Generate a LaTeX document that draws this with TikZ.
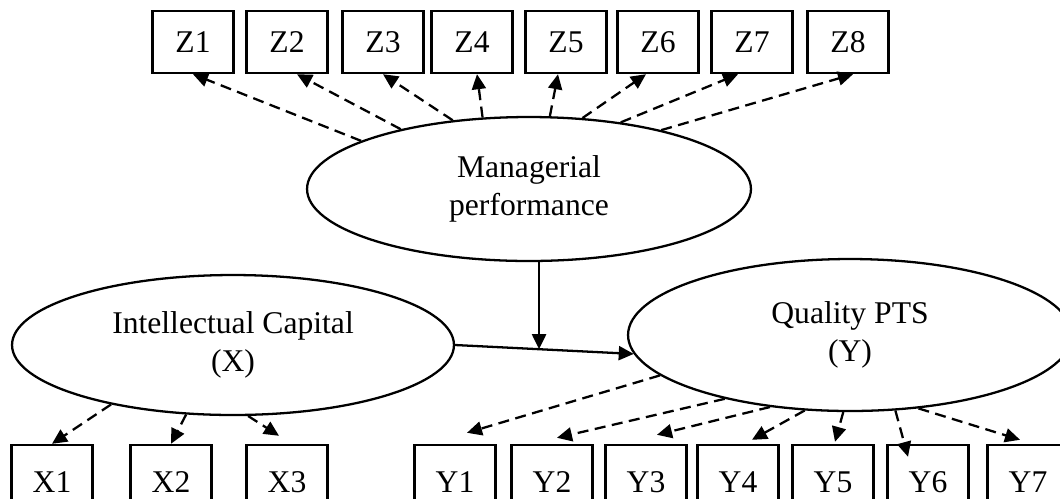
\documentclass[tikz,border=0pt]{standalone}
\usepackage{fontspec}
\setmainfont{Liberation Serif}
\usetikzlibrary{shapes, arrows.meta, positioning}

\begin{document}
\begin{tikzpicture}[
    x=0.02cm, y=-0.02cm,
    font=\fontsize{18}{22}\selectfont,
    box/.style={
        rectangle, draw, line width=1.4pt,
        minimum width=1.62cm,
        minimum height=1.24cm,
        inner sep=0pt
    },
    lowbox/.style={box, minimum height=1.48cm},
    latent/.style={
        ellipse, draw, line width=1.3pt,
        minimum width=8.88cm,
        minimum height=2.88cm,
        align=center, inner sep=0pt
    },
    arrow/.style={-{Triangle[length=0.3cm,width=0.28cm]}, line width=1.3pt},
    dasharrow/.style={arrow, dash pattern=on 0.22cm off 0.13cm}
]
\useasboundingbox (0,0) rectangle (1060,498);
\clip (0,0) rectangle (1060,498);

% Latent variables
\node[latent] (mp) at (529,189) {Managerial\\performance};
\node[latent, minimum width=8.84cm, minimum height=2.8cm] (ic) at (233,345) {Intellectual Capital\\(X)};
\node[latent, minimum height=3.04cm] (qp) at (850,335) {Quality PTS\\(Y)};

% Indicators
\node[box] (z1) at (193,42) {Z1};
\node[box] (z2) at (287,42) {Z2};
\node[box] (z3) at (383,42) {Z3};
\node[box] (z4) at (472,42) {Z4};
\node[box] (z5) at (566,42) {Z5};
\node[box] (z6) at (658,42) {Z6};
\node[box] (z7) at (752,42) {Z7};
\node[box] (z8) at (848,42) {Z8};

\node[lowbox] (x1) at (52,482) {X1};
\node[lowbox] (x2) at (171,482) {X2};
\node[lowbox] (x3) at (287,482) {X3};

\node[lowbox] (y1) at (455,482) {Y1};
\node[lowbox] (y2) at (552,482) {Y2};
\node[lowbox] (y3) at (646,482) {Y3};
\node[lowbox] (y4) at (738,482) {Y4};
\node[lowbox] (y5) at (833,482) {Y5};
\node[lowbox] (y6) at (928,482) {Y6};
\node[lowbox] (y7) at (1028,482) {Y7};

% Arrows
\draw[dasharrow] (mp.164) -- (z1.south);
\draw[dasharrow] (mp.155) -- ([shift={(10,0)}]z2.south);
\draw[dasharrow] (mp.138) -- (z3.south);
\draw[dasharrow] (mp.123) -- ([shift={(5,0)}]z4.south);
\draw[dasharrow] (mp.74) -- ([shift={(-8,0)}]z5.south);
\draw[dasharrow] (mp.53) -- ([shift={(-12,0)}]z6.south);
\draw[dasharrow] (mp.36) -- ([shift={(-14,0)}]z7.south);
\draw[dasharrow] (mp.24) -- ([shift={(5,0)}]z8.south);

\draw[dasharrow] (ic.206) -- (x1.north);
\draw[dasharrow] (ic.236) -- (x2.north);
\draw[dasharrow] (ic.282) -- ([shift={(-8,-8)}]x3.north);

\draw[dasharrow] (qp.192) -- ([shift={(12,-11)}]y1.north);
\draw[dasharrow] (qp.207) -- ([shift={(5,-6)}]y2.north);
\draw[dasharrow] (qp.222) -- ([shift={(11,-9)}]y3.north);
\draw[dasharrow] (qp.239) -- ([shift={(14,-4)}]y4.north);
\draw[dasharrow] (qp.265) -- ([shift={(2,-2)}]y5.north);
\draw[dasharrow] (qp.301) -- ([shift={(-20,13)}]y6.north);
\draw[dasharrow] (qp.313) -- ([shift={(-8,-4)}]y7.north);

\draw[arrow] (ic.east) -- coordinate[pos=0.47] (mid) (qp.185);
\draw[arrow] (mid |- mp.south) -- (mid);

\end{tikzpicture}
\end{document}
